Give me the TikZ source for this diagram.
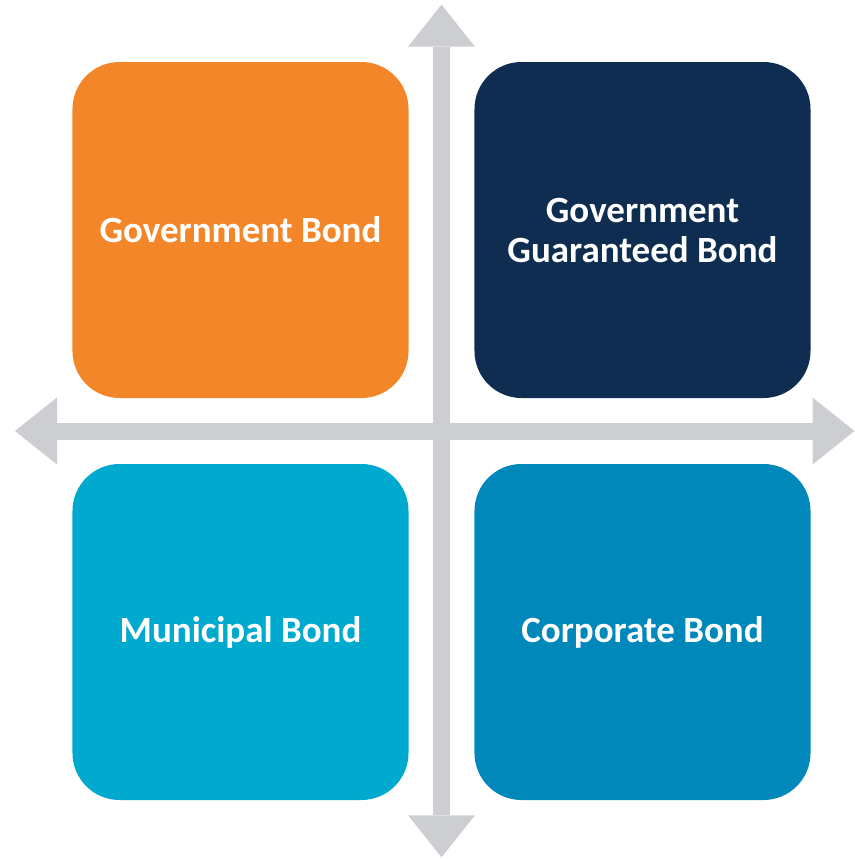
\documentclass[tikz,border=0pt]{standalone}
\usepackage{fontspec}
\setmainfont{Carlito}
\usepackage{tikz}
\usetikzlibrary{arrows.meta,calc}

\definecolor{govorange}{HTML}{F4862A}
\definecolor{guarnavy}{HTML}{0E2D50}
\definecolor{municyan}{HTML}{00A9CE}
\definecolor{corpblue}{HTML}{0088BA}
\definecolor{axisgray}{HTML}{CDCED2}

\begin{document}
\begin{tikzpicture}[x=1pt,y=-1pt]
    % `quadrant' is used for the four rounded bond boxes.
    % `axis' is used for the two grey double arrows.
    \tikzstyle{quadrant} = [fill,rounded corners=47pt,minimum width=336pt,minimum height=336pt,
      text=white,align=center,font=\bfseries\fontsize{37}{40}\selectfont]
    \tikzstyle{axis} = [line width=17pt,draw=axisgray,
      {Triangle[width=67pt,length=42pt,line width=0pt 0 0]}-{Triangle[width=67pt,length=42pt,line width=0pt 0 0]}]
    \useasboundingbox (0,0) rectangle (854,859);
    %
    \coordinate (top) at (441.5,4.7);
    \coordinate (bottom) at (441.5,857.3);
    \coordinate (left) at (15,431);
    \coordinate (right) at (854.5,431);
    % Draw axes.
    \draw[axis] (left) -- (right);
    \draw[axis] (top) -- (bottom);
    %
    \matrix[row sep=66pt, column sep=66pt] (bonds) at (441.5,431) {
      \node[quadrant,fill=govorange] (gov) {Government Bond}; &
      \node[quadrant,fill=guarnavy] (guar) {Government\\Guaranteed Bond}; \\
      \node[quadrant,fill=municyan] (muni) {Municipal Bond}; &
      \node[quadrant,fill=corpblue] (corp) {Corporate Bond}; \\
    };
\end{tikzpicture}
\end{document}
